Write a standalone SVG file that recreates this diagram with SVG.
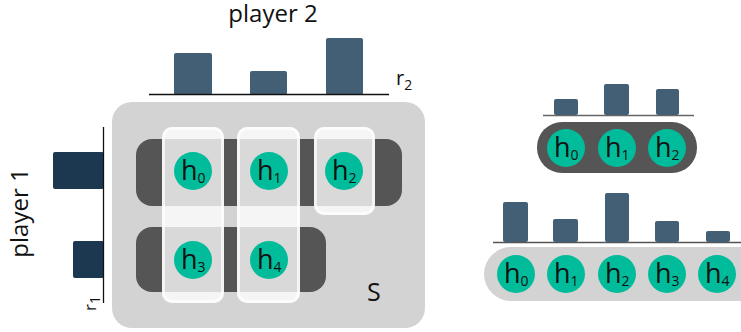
<svg xmlns="http://www.w3.org/2000/svg" width="741" height="332" viewBox="0 0 741 332">
<style>
text{font-family:"Open Sans","Liberation Sans",sans-serif;fill:#111;font-weight:400}
.lbl{font-size:27px}
.sub{font-size:14px}
.node{fill:#00bc9a}
.bar2{fill:#435f75}
.bar1{fill:#1c3850}
.col{fill:#fff;fill-opacity:0.78}
.colb{fill:none;stroke:#fff;stroke-opacity:0.7;stroke-width:3}
.dark{fill:#555}
.light{fill:#d3d3d3}
</style>
<rect width="741" height="332" fill="#fff"/>
<!-- main set S -->
<g id="set-S">
<rect class="light" x="112" y="102" width="313" height="226" rx="20"/>
<rect class="dark" x="136" y="139" width="266" height="67" rx="16"/>
<rect class="dark" x="136" y="227" width="190" height="65" rx="16"/>
<rect class="col" x="162" y="127" width="62" height="176" rx="10"/>
<rect class="colb" x="163.5" y="128.5" width="59" height="173" rx="9"/>
<rect class="col" x="237" y="127" width="63" height="176" rx="10"/>
<rect class="colb" x="238.5" y="128.5" width="60" height="173" rx="9"/>
<rect class="col" x="314" y="127" width="61" height="88" rx="10"/>
<rect class="colb" x="315.5" y="128.5" width="58" height="85" rx="9"/>
<text x="367" y="301" font-size="25">S</text>
</g>
<g id="h0"><circle class="node" cx="193" cy="171" r="19"/><text class="lbl" x="181" y="180">h<tspan class="sub" dy="3">0</tspan></text></g>
<g id="h1"><circle class="node" cx="269" cy="171" r="19"/><text class="lbl" x="257" y="180">h<tspan class="sub" dy="3">1</tspan></text></g>
<g id="h2"><circle class="node" cx="344" cy="171" r="19"/><text class="lbl" x="332" y="180">h<tspan class="sub" dy="3">2</tspan></text></g>
<g id="h3"><circle class="node" cx="193" cy="260" r="19"/><text class="lbl" x="181" y="269">h<tspan class="sub" dy="3">3</tspan></text></g>
<g id="h4"><circle class="node" cx="269" cy="260" r="19"/><text class="lbl" x="257" y="269">h<tspan class="sub" dy="3">4</tspan></text></g>
<!-- player 2 -->
<g id="player2">
<text x="273" y="22" font-size="24" text-anchor="middle">player 2</text>
<rect class="bar2" x="174" y="53" width="38" height="42" rx="2"/>
<rect class="bar2" x="250" y="71" width="37" height="24" rx="2"/>
<rect class="bar2" x="326" y="38" width="37" height="57" rx="2"/>
<text x="396" y="85" font-size="20">r<tspan class="sub" font-size="13" dy="5">2</tspan></text>
</g>
<!-- player 1 -->
<g id="player1">
<text transform="translate(28,213) rotate(-90)" font-size="24" text-anchor="middle">player 1</text>
<rect class="bar1" x="53" y="152" width="51" height="37" rx="2"/>
<rect class="bar1" x="73" y="241" width="31" height="37" rx="2"/>
<text transform="translate(96,311) rotate(-90)" font-size="17">r<tspan class="sub" font-size="11" dy="4">1</tspan></text>
</g>
<g id="axes" stroke="#111" stroke-width="1.3">
<line x1="149" y1="94.5" x2="389" y2="94.5"/>
<line x1="103.5" y1="127" x2="103.5" y2="303"/>
<line x1="543" y1="115.5" x2="694" y2="115.5" stroke="#666"/>
<line x1="493" y1="242.5" x2="741" y2="242.5" stroke="#555"/>
</g>
<!-- right top -->
<g id="row-top">
<rect class="bar2" x="554" y="99" width="24" height="16" rx="2"/>
<rect class="bar2" x="604" y="84" width="25" height="31" rx="2"/>
<rect class="bar2" x="656" y="89" width="23" height="26" rx="2"/>
<rect class="dark" x="537" y="122" width="160" height="51" rx="25"/>
</g>
<g id="rt-h0"><circle class="node" cx="566" cy="148" r="19"/><text class="lbl" x="554" y="157">h<tspan class="sub" dy="3">0</tspan></text></g>
<g id="rt-h1"><circle class="node" cx="617" cy="148" r="19"/><text class="lbl" x="605" y="157">h<tspan class="sub" dy="3">1</tspan></text></g>
<g id="rt-h2"><circle class="node" cx="667" cy="148" r="19"/><text class="lbl" x="655" y="157">h<tspan class="sub" dy="3">2</tspan></text></g>
<!-- right bottom -->
<g id="row-bottom">
<rect class="bar2" x="503" y="202" width="25" height="40" rx="2"/>
<rect class="bar2" x="553" y="219" width="25" height="23" rx="2"/>
<rect class="bar2" x="605" y="193" width="24" height="49" rx="2"/>
<rect class="bar2" x="655" y="221" width="24" height="21" rx="2"/>
<rect class="bar2" x="706" y="231" width="24" height="11" rx="2"/>
<rect class="light" x="484" y="247" width="290" height="54" rx="27"/>
</g>
<g id="rb-h0"><circle class="node" cx="516" cy="274" r="19"/><text class="lbl" x="504" y="283">h<tspan class="sub" dy="3">0</tspan></text></g>
<g id="rb-h1"><circle class="node" cx="566" cy="274" r="19"/><text class="lbl" x="554" y="283">h<tspan class="sub" dy="3">1</tspan></text></g>
<g id="rb-h2"><circle class="node" cx="617" cy="274" r="19"/><text class="lbl" x="605" y="283">h<tspan class="sub" dy="3">2</tspan></text></g>
<g id="rb-h3"><circle class="node" cx="667" cy="274" r="19"/><text class="lbl" x="655" y="283">h<tspan class="sub" dy="3">3</tspan></text></g>
<g id="rb-h4"><circle class="node" cx="717" cy="274" r="19"/><text class="lbl" x="705" y="283">h<tspan class="sub" dy="3">4</tspan></text></g>
</svg>
